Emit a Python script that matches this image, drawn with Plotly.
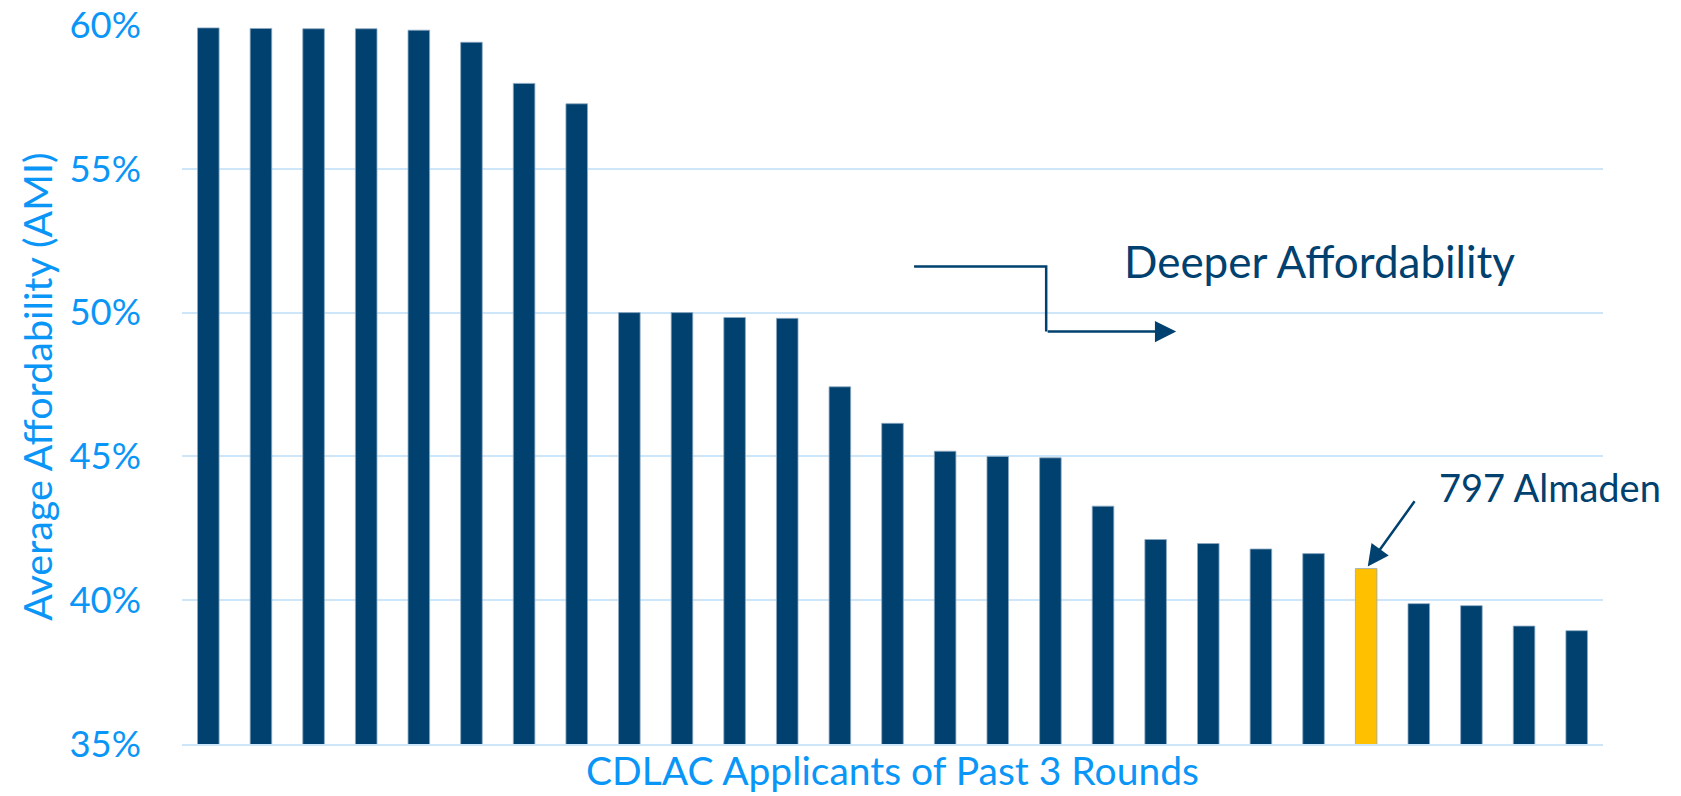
import plotly.graph_objects as go

# Average AMI of each CDLAC applicant, sorted high to low
applicants = list(range(27))
ami_pct = [59.90, 59.88, 59.87, 59.87, 59.82, 59.40, 57.97, 57.26,
           50.00, 50.00, 49.83, 49.80, 47.42, 46.15, 45.18, 45.00, 44.95,
           43.27, 42.11, 41.97, 41.78, 41.62, 41.10, 39.88, 39.81, 39.10, 38.94]
highlight_index = 22          # 797 Almaden
y_ticks = [35, 40, 45, 50, 55, 60]
y_tick_text = ["35%", "40%", "45%", "50%", "55%", "60%"]

NAVY = "#00416F"
GOLD = "#FFC000"
AZURE = "#0A96F7"
GRID = "#CDE6FA"
FONT = "Lato"

bar_colors = [GOLD if i == highlight_index else NAVY for i in applicants]

fig = go.Figure(
    go.Bar(
        x=applicants,
        y=ami_pct,
        base=0,
        marker=dict(color=bar_colors, line=dict(color="#8EA9C3", width=0.8)),
        hoverinfo="skip",
    )
)

fig.update_layout(
    width=1681,
    height=796,
    margin=dict(l=182, r=78, t=25, b=52, autoexpand=False),
    paper_bgcolor="white",
    plot_bgcolor="white",
    bargap=0.59,
    showlegend=False,
    font=dict(family=FONT, color=AZURE),
)

fig.update_xaxes(
    range=[-0.5, 26.5],
    showticklabels=False,
    showgrid=False,
    zeroline=False,
    showline=True,
    linecolor=GRID,
    linewidth=2,
    ticks="",
)

fig.update_yaxes(
    range=[35, 60],
    tickvals=y_ticks,
    ticktext=y_tick_text,
    tickfont=dict(family=FONT, size=36.5, color=AZURE),
    ticklabelstandoff=40,
    showgrid=True,
    gridcolor=GRID,
    gridwidth=2,
    zeroline=False,
    showline=False,
    ticks="",
)

# axis titles
fig.add_annotation(
    text="Average Affordability (AMI)", xref="paper", yref="paper",
    x=-0.102, y=0.497, textangle=-90, showarrow=False,
    font=dict(family=FONT, size=39.5, color=AZURE),
    xanchor="center", yanchor="middle",
)
fig.add_annotation(
    text="CDLAC Applicants of Past 3 Rounds", xref="paper", yref="paper",
    x=0.5, y=-0.036, showarrow=False,
    font=dict(family=FONT, size=39, color=AZURE),
    xanchor="center", yanchor="middle",
)

# elbow connector pointing toward deeper affordability
fig.add_shape(
    type="path", xref="x", yref="y",
    path="M 13.41,51.60 L 15.92,51.60 L 15.92,49.34",
    line=dict(color=NAVY, width=2.5),
)
fig.add_annotation(
    x=18.39, y=49.34, ax=15.92, ay=49.34, xref="x", yref="y",
    axref="x", ayref="y", text="", showarrow=True,
    arrowhead=2, arrowsize=1.7, arrowwidth=2.5, arrowcolor=NAVY,
)
fig.add_annotation(
    text="Deeper Affordability", x=17.36, y=51.78, xref="x", yref="y",
    showarrow=False, xanchor="left", yanchor="middle",
    font=dict(family=FONT, size=44, color=NAVY),
)

# callout for the highlighted project
fig.add_annotation(
    x=22.03, y=41.17, ax=22.94, ay=43.49, xref="x", yref="y",
    axref="x", ayref="y", text="", showarrow=True,
    arrowhead=2, arrowsize=1.7, arrowwidth=2.5, arrowcolor=NAVY,
)
fig.add_annotation(
    text="797 Almaden", x=23.34, y=43.94, xref="x", yref="y",
    showarrow=False, xanchor="left", yanchor="middle",
    font=dict(family=FONT, size=38, color=NAVY),
)

fig.write_html("out.html")
